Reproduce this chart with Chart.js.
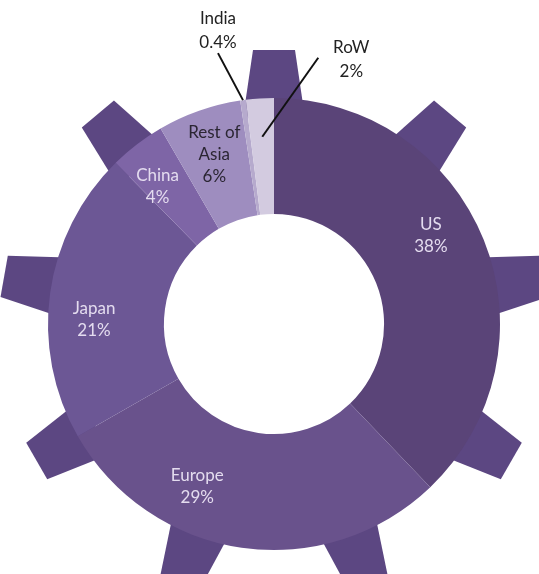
<!DOCTYPE html>
<html>
<head>
<meta charset="utf-8">
<script src="https://cdn.jsdelivr.net/npm/chart.js@4.4.1/dist/chart.umd.min.js"></script>
<style>
  html, body { margin: 0; padding: 0; background: #fff; }
  #wrap { width: 539px; height: 574px; position: relative; }
</style>
</head>
<body>
<div id="wrap"><canvas id="gearChart"></canvas></div>
<script>
// share of revenue by region, clockwise from 12 o'clock
const regions = ["US", "Europe", "Japan", "China", "Rest of Asia", "India", "RoW"];
const shares = [38, 29, 21, 4, 6, 0.4, 2];
const sliceColors = ["#5a4478", "#69528c", "#6c5795", "#7e65a6", "#9e8dbf", "#b6aacd", "#d3cbe0"];

// how each label is laid out: inside the ring (with a small angle nudge) or as a callout
const labelStyle = [
    { lines: ["US", "38%"], nudge: -7.5, color: "#e4dcef" },
    { lines: ["Europe", "29%"], nudge: 17, color: "#e4dcef" },
    { lines: ["Japan", "21%"], nudge: -6.5, color: "#e4dcef" },
    { lines: ["China", "4%"], nudge: -3, color: "#e4dcef" },
    { lines: ["Rest of", "Asia", "6%"], nudge: 0, color: "#2b2633" },
    { lines: ["India", "0.4%"], callout: { anchorR: 1.0, lineTo: [-25, -47], text: [-25, -82] }, color: "#222" },
    { lines: ["RoW", "2%"], callout: { anchorR: 0.83, lineTo: [56, -79], text: [89, -89] }, color: "#222" }
];

const TOOTH_COUNT = 9;
const toothColor = "#5c4782";

// gear teeth sit behind the ring
const gearTeeth = {
    id: "gearTeeth",
    beforeDatasetsDraw(chart) {
        const arc = chart.getDatasetMeta(0).data[0];
        if (!arc) return;
        const ctx = chart.ctx;
        const R = arc.outerRadius;
        ctx.save();
        ctx.translate(arc.x, arc.y);
        ctx.fillStyle = toothColor;
        for (let i = 0; i < TOOTH_COUNT; i++) {
            ctx.save();
            ctx.rotate(i * 2 * Math.PI / TOOTH_COUNT);
            ctx.beginPath();
            ctx.moveTo(-31, -(R - 20));
            ctx.lineTo(-21, -(R + 48));
            ctx.lineTo(21, -(R + 48));
            ctx.lineTo(31, -(R - 20));
            ctx.closePath();
            ctx.fill();
            ctx.restore();
        }
        ctx.restore();
    }
};

const sliceLabels = {
    id: "sliceLabels",
    afterDatasetsDraw(chart) {
        const ctx = chart.ctx;
        const arcs = chart.getDatasetMeta(0).data;
        const lineH = 22;
        ctx.save();
        ctx.font = "17px Lato";
        ctx.textAlign = "center";
        ctx.textBaseline = "middle";
        arcs.forEach((arc, i) => {
            const st = labelStyle[i];
            const mid = (arc.startAngle + arc.endAngle) / 2;
            ctx.fillStyle = st.color;
            if (st.callout) {
                const r = arc.outerRadius * st.callout.anchorR;
                const ax = arc.x + Math.cos(mid) * r;
                const ay = arc.y + Math.sin(mid) * r;
                ctx.strokeStyle = "#111";
                ctx.lineWidth = 2;
                ctx.beginPath();
                ctx.moveTo(ax, ay);
                ctx.lineTo(ax + st.callout.lineTo[0], ay + st.callout.lineTo[1]);
                ctx.stroke();
                st.lines.forEach((t, k) => {
                    ctx.fillText(t, ax + st.callout.text[0], ay + st.callout.text[1] + k * 24);
                });
            } else {
                const a = mid + st.nudge * Math.PI / 180;
                const r = (arc.innerRadius + arc.outerRadius) / 2 + 12;
                const cx = arc.x + Math.cos(a) * r;
                const cy = arc.y + Math.sin(a) * r;
                const top = cy - (st.lines.length - 1) * lineH / 2;
                st.lines.forEach((t, k) => ctx.fillText(t, cx, top + k * lineH));
            }
        });
        ctx.restore();
    }
};

new Chart(document.getElementById("gearChart"), {
    type: "doughnut",
    data: {
        labels: regions,
        datasets: [{
            data: shares,
            backgroundColor: sliceColors,
            borderWidth: 0
        }]
    },
    options: {
        responsive: true,
        maintainAspectRatio: false,
        animation: false,
        cutout: "48.7%",
        layout: { padding: { left: 48, right: 39, top: 98, bottom: 24 } },
        plugins: {
            legend: { display: false },
            tooltip: { enabled: false }
        }
    },
    plugins: [gearTeeth, sliceLabels]
});
</script>
</body>
</html>
